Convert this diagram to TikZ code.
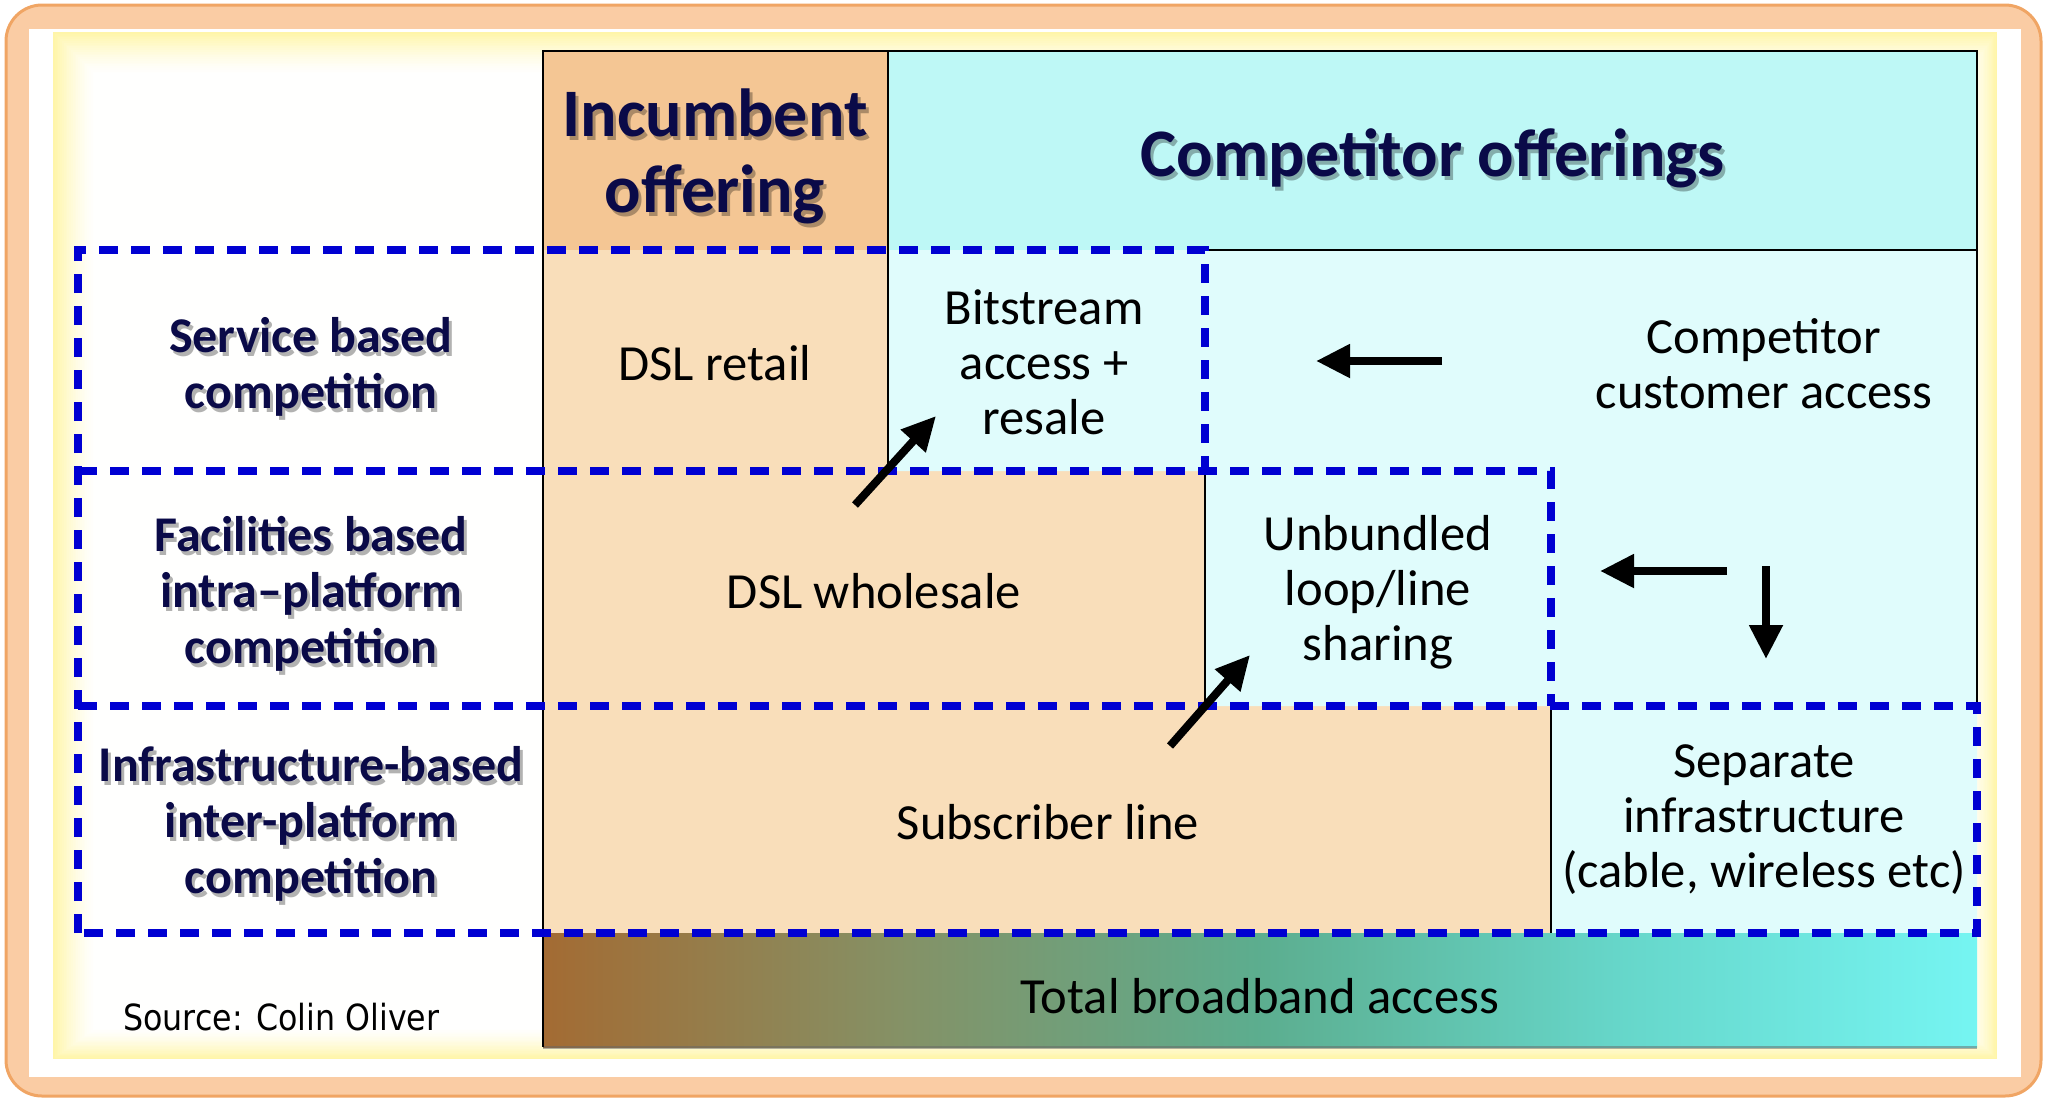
\documentclass[tikz,border=0pt]{standalone}
\usepackage{fontspec}
\setmainfont{Carlito}
\newfontfamily\srcfont[FakeStretch=0.88]{DejaVu Sans}
\usetikzlibrary{arrows.meta}
\definecolor{frameorange}{RGB}{250,204,164}
\definecolor{frameline}{RGB}{240,165,100}
\definecolor{glowY}{RGB}{255,242,140}
\definecolor{incH}{RGB}{244,198,148}
\definecolor{incB}{RGB}{249,222,186}
\definecolor{comH}{RGB}{190,248,246}
\definecolor{comB}{RGB}{224,252,252}
\definecolor{navy}{RGB}{10,10,72}
\definecolor{dashblue}{RGB}{0,0,210}
\pgfdeclarehorizontalshading{barshade}{100bp}{rgb(0bp)=(0.64,0.42,0.20); rgb(25bp)=(0.64,0.42,0.20); rgb(37.5bp)=(0.52,0.57,0.40); rgb(50bp)=(0.36,0.68,0.56); rgb(62.5bp)=(0.40,0.84,0.79); rgb(75bp)=(0.46,0.96,0.95); rgb(100bp)=(0.46,0.96,0.95)}
\newcommand{\navylabel}[4]{%
  \node[#3, text=black, text opacity=0.3, xshift=1.5pt, yshift=-2pt] at #2 {#4};
  \node[#3, text=navy] (#1) at #2 {#4};}
\tikzset{
  solidline/.style={draw=black, line width=1.3pt},
  dashbox/.style={draw=dashblue, line width=3.7pt, dash pattern=on 9.5pt off 6.5pt},
  bigarrow/.style={draw=black, line width=4pt, -{Triangle[length=17pt,width=16pt]}},
  cell/.style={align=center, font=\fontsize{25.3}{27.5}\selectfont, text=black},
  rowlabel/.style={align=center, font=\fontsize{25}{28}\selectfont\bfseries},
  header/.style={align=center, font=\fontsize{34}{38}\selectfont\bfseries},
}
\begin{document}
\begin{tikzpicture}[x=0.5pt,y=-0.5pt]
\useasboundingbox (0,0) rectangle (2046,1099);
% frame
\draw[fill=frameorange, draw=frameline, line width=1.5pt, rounded corners=18pt] (6,5) rectangle (2041,1096);
\fill[white] (29,29) rectangle (2021,1077);
\foreach \i [evaluate=\i as \p using {75*(1-\i/24)^1.5}] in {0,...,23}
  \fill[glowY!\p!white] (53+1.8*\i,32+1.8*\i) rectangle (1997-1.3*\i,1059-1.3*\i);
% fills
\fill[incH] (543,51) rectangle (888,250);
\fill[comH] (888,51) rectangle (1977,250);
\fill[incB] (543,250) -- (888,250) -- (888,471) -- (1205,471) -- (1205,706) -- (1551,706) -- (1551,933) -- (543,933) -- cycle;
\fill[comB] (888,250) -- (1977,250) -- (1977,933) -- (1551,933) -- (1551,706) -- (1205,706) -- (1205,471) -- (888,471) -- cycle;
% bar
\shade[shading=barshade] (543,933) rectangle (1977,1047);
\draw[black!60, opacity=0.5, line width=1.5pt] (543,1047) -- (1977,1047);
% solid lines
\draw[solidline] (543,1047) -- (543,51) -- (1977,51) -- (1977,706);
\draw[solidline] (888,51) -- (888,471);
\draw[solidline] (1205,250) -- (1977,250);
\draw[solidline] (1205,471) -- (1205,706);
\draw[solidline] (1551,706) -- (1551,933);
% dashed boxes
\draw[dashbox] (78,933) -- (78,250) -- (1205,250) -- (1205,471);
\draw[dashbox] (78,471) -- (1551,471) -- (1551,706);
\draw[dashbox] (78,706) -- (1977,706) -- (1977,933) -- (78,933);
% headers
\navylabel{inc}{(715,156)}{header}{Incumbent\\offering}
\navylabel{comp}{(1433,158)}{header}{Competitor offerings}
% row labels
\navylabel{svc}{(311,367)}{rowlabel}{Service based\\competition}
\navylabel{fac}{(311,594)}{rowlabel}{Facilities based\\intra\textendash platform\\competition}
\navylabel{inf}{(311,824)}{rowlabel}{Infrastructure-based\\inter-platform\\competition}
% cells
\node[cell] (retail) at (715,363) {DSL retail};
\node[cell] (bit) at (1044,362) {Bitstream\\access +\\resale};
\node[cell] (cca) at (1764,364) {Competitor\\customer access};
\node[cell] (whole) at (874,591) {DSL wholesale};
\node[cell] (unb) at (1378,592) {Unbundled\\loop/line\\sharing};
\node[cell] (sub) at (1048,822) {Subscriber line};
\node[cell] (sep) at (1764,820) {Separate\\infrastructure\\(cable, wireless etc)};
\node[cell] (total) at (1260,996) {Total broadband access};
\node[font=\srcfont\fontsize{18}{20}\selectfont, anchor=west, inner sep=0pt] (src) at (123,1017) {Source: Colin Oliver};
% arrow endpoints
\coordinate (a1s) at (1442,361); \coordinate (a1e) at (1316,361);
\coordinate (a2s) at (1727,571); \coordinate (a2e) at (1600,571);
\coordinate (a3s) at (1766,566); \coordinate (a3e) at (1766,659);
\coordinate (a4s) at (855,505);  \coordinate (a4e) at (936,416);
\coordinate (a5s) at (1170,746); \coordinate (a5e) at (1250,655);
\draw[bigarrow] (a1s) -- (a1e);
\draw[bigarrow] (a2s) -- (a2e);
\draw[bigarrow] (a3s) -- (a3e);
\draw[bigarrow] (a4s) -- (a4e);
\draw[bigarrow] (a5s) -- (a5e);
\end{tikzpicture}
\end{document}
